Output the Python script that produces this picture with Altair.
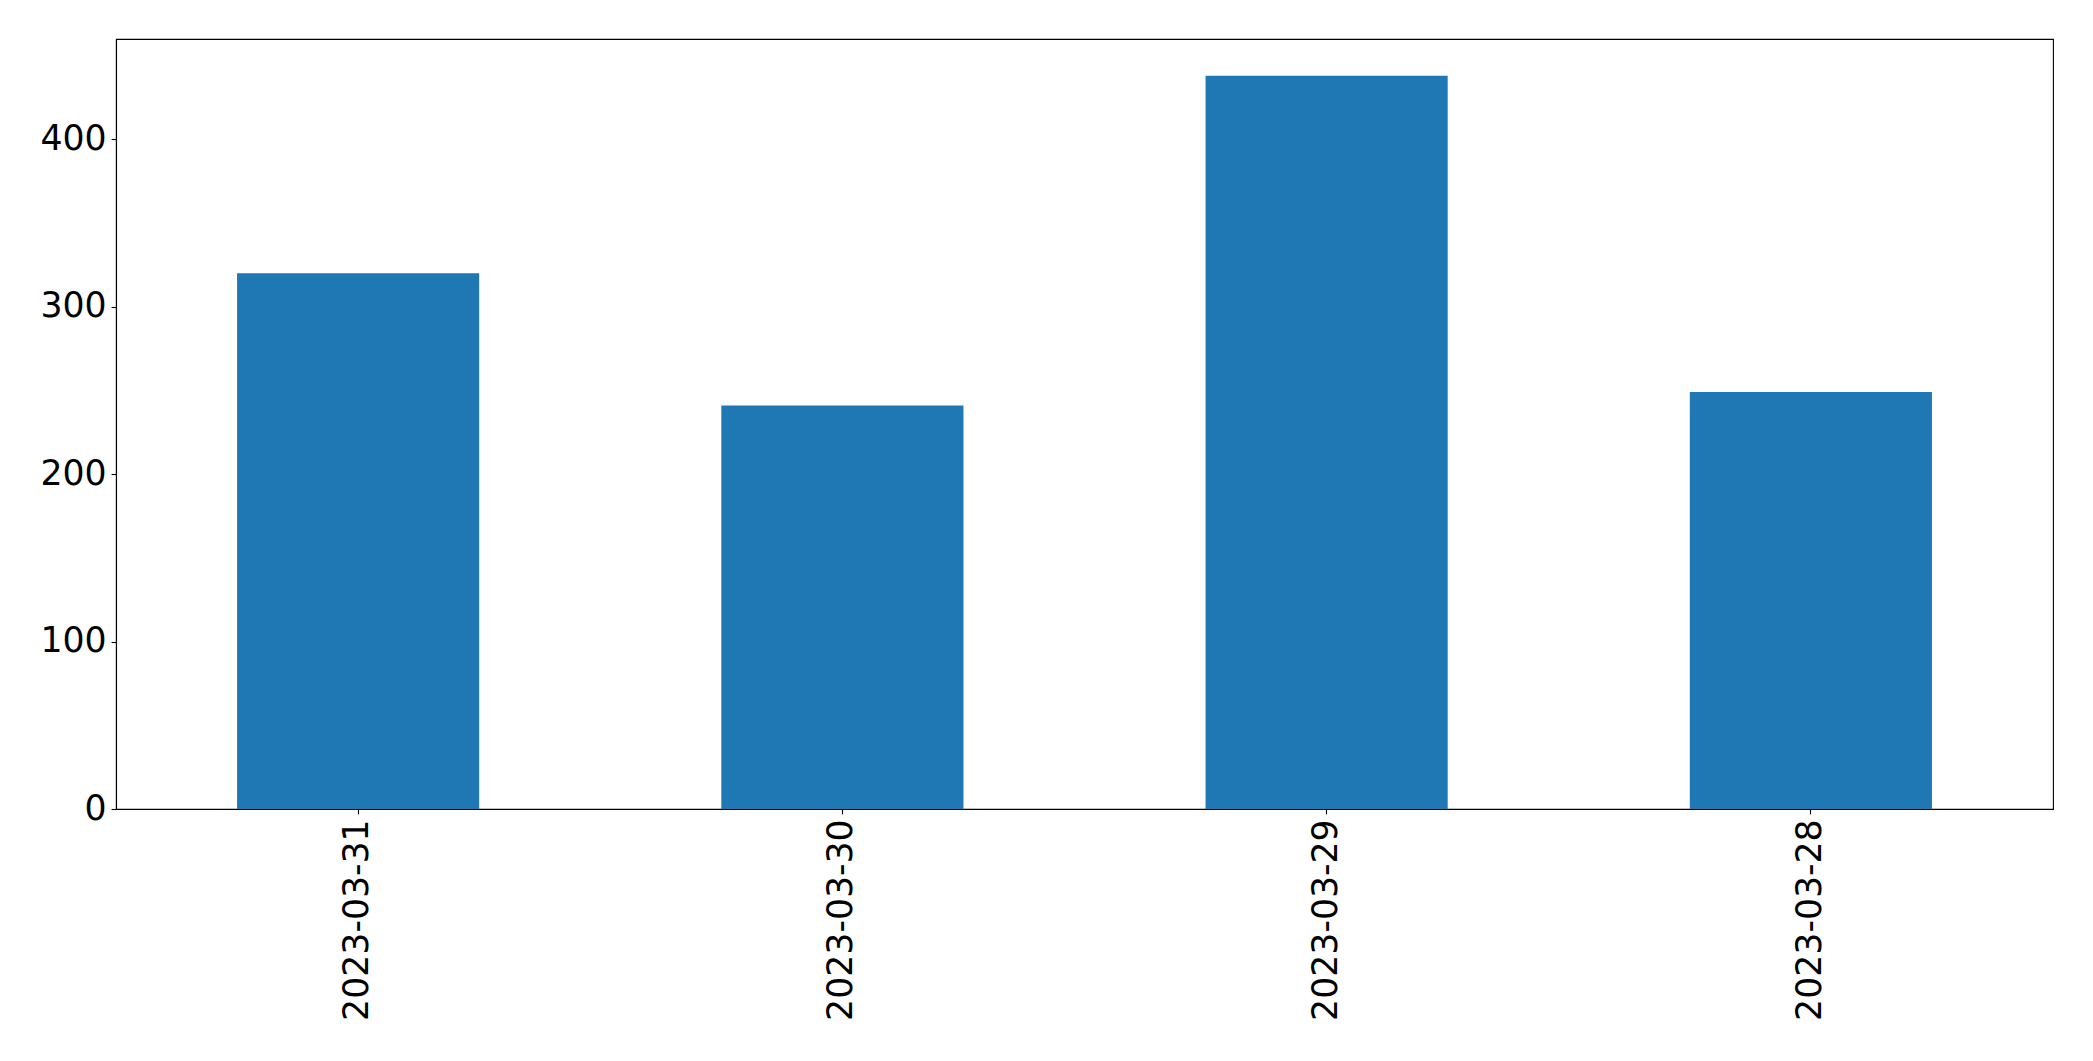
import altair as alt
import pandas as pd

dates = ["2023-03-31", "2023-03-30", "2023-03-29", "2023-03-28"]
values = [320, 241, 438, 249]
y_ticks = [0, 100, 200, 300, 400]

df = pd.DataFrame({"date": dates, "value": values})

FONT = "DejaVu Sans"
FS = 34.7

chart = (
    alt.Chart(df)
    .mark_bar(color="#1f77b4")
    .encode(
        x=alt.X(
            "date:N",
            sort=None,
            title=None,
            scale=alt.Scale(paddingInner=0.5, paddingOuter=0.25),
            axis=alt.Axis(
                labelAngle=270,
                labelFont=FONT,
                labelFontSize=FS,
                labelColor="black",
                labelPadding=4.9,
                labelLimit=0,
                tickSize=4.9,
                tickColor="black",
                tickWidth=1.1,
                domainColor="black",
                domainWidth=1.1,
                grid=False,
            ),
        ),
        y=alt.Y(
            "value:Q",
            title=None,
            scale=alt.Scale(domain=[0, 459.9], nice=False, zero=True),
            axis=alt.Axis(
                values=y_ticks,
                labelFont=FONT,
                labelFontSize=FS,
                labelColor="black",
                labelPadding=4.9,
                labelLimit=0,
                tickSize=4.9,
                tickColor="black",
                tickWidth=1.1,
                domainColor="black",
                domainWidth=1.1,
                grid=False,
            ),
        ),
    )
    .properties(
        width=1937,
        height=770,
        autosize=alt.AutoSizeParams(type="none"),
        padding={"left": 108, "top": 31, "right": 30, "bottom": 240},
        background="white",
    )
    .configure_view(stroke="black", strokeWidth=1.1)
)

chart.save("out.html", embed_options={"renderer": "svg", "actions": False})
